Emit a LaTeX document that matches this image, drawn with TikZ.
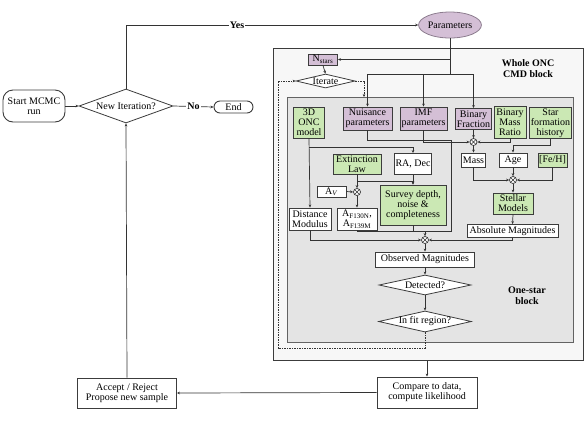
\documentclass[tikz,border=0pt]{standalone}
\usepackage{fontspec}
\setmainfont{Liberation Serif}
\usetikzlibrary{arrows.meta,shapes.geometric}
\definecolor{purp}{HTML}{D4BFD6}
\definecolor{grn}{HTML}{CBE8B4}
\definecolor{lc}{HTML}{333333}
\definecolor{bc}{HTML}{3C3C3C}
\definecolor{outerfill}{HTML}{F7F7F7}
\definecolor{innerfill}{HTML}{E4E4E4}
\definecolor{ellborder}{HTML}{8C7C8E}
\begin{document}
\begin{tikzpicture}[x=1pt,y=-1pt,
  font=\fontsize{10}{10}\selectfont,
  box/.style={draw=bc, line width=0.9pt, fill=white, align=center, inner sep=1pt},
  gbox/.style={box, fill=grn},
  pbox/.style={box, fill=purp},
  dia/.style={diamond, draw=bc, line width=0.8pt, fill=white, inner sep=0pt},
  conn/.style={draw=lc, line width=0.7pt},
  arr/.style={conn, -{Stealth[length=3pt,width=2.6pt]}},
  dsh/.style={draw=lc, line width=0.6pt, dash pattern=on 1.5pt off 1pt},
  ox/.style={circle, draw=lc, line width=0.7pt, fill=white, minimum size=7pt, inner sep=0pt,
    path picture={\draw[lc, line width=0.6pt] (path picture bounding box.north west) -- (path picture bounding box.south east)
      (path picture bounding box.north east) -- (path picture bounding box.south west);}},
  lbl/.style={font=\fontsize{10}{11}\selectfont\bfseries, align=center}
]
\useasboundingbox (0,0) rectangle (586,421);

% outer and inner blocks
\node[draw=bc, line width=0.9pt, fill=outerfill, minimum width=310pt, minimum height=312pt, anchor=north west, inner sep=0pt] (outer) at (273,48) {};
\node[draw=bc!80, line width=1pt, fill=innerfill, minimum width=286pt, minimum height=245pt, anchor=north west, inner sep=0pt] (inner) at (287,97) {};
\node[lbl] (wholelbl) at (528,69) {Whole ONC\\CMD block};
\node[lbl] (onelbl) at (527,296) {One-star\\block};

% left flow
\node[box, rounded corners=10pt, minimum width=62pt, minimum height=32pt] (start) at (34,106) {Start MCMC\\run};
\node[dia, minimum width=94pt, minimum height=34pt, aspect=2.8] (newit) at (126,106) {New Iteration?};
\node[box, rounded corners=6pt, minimum width=39pt, minimum height=12pt] (endn) at (233.5,107) {End};
\node[box, minimum width=99pt, minimum height=30pt] (accept) at (127,393) {Accept / Reject\\Propose new sample};
\node[box, minimum width=100pt, minimum height=31pt] (compare) at (427,392.5) {Compare to data,\\compute likelihood};
\node[ellipse, draw=ellborder, line width=0.8pt, fill=purp, minimum width=61pt, minimum height=26pt, inner sep=0pt] (params) at (450,25) {Parameters};

% top of whole block
\node[pbox, minimum width=29pt, minimum height=11pt, inner sep=0.5pt] (nstars) at (323,59.5) {N\textsubscript{stars}};
\node[dia, minimum width=59pt, minimum height=14pt, aspect=4.2] (iterate) at (325.5,81) {Iterate};

% first row
\node[gbox, minimum width=31pt, minimum height=31pt] (onc) at (309,122.5) {3D\\ONC\\model};
\node[pbox, minimum width=49pt, minimum height=23pt] (nuis) at (367.5,118.5) {Nuisance\\parameters};
\node[pbox, minimum width=47pt, minimum height=23pt] (imf) at (423.5,118.5) {IMF\\parameters};
\node[pbox, minimum width=34pt, minimum height=21pt] (binf) at (473.5,119) {Binary\\Fraction};
\node[gbox, minimum width=32pt, minimum height=32pt] (bmr) at (510,122) {Binary\\Mass\\Ratio};
\node[gbox, minimum width=42pt, minimum height=30pt] (sfh) at (550.5,123) {Star\\formation\\history};

\node[ox] (ox1) at (473.5,142) {};

% second row
\node[gbox, minimum width=48pt, minimum height=20pt] (extl) at (357,164) {Extinction\\Law};
\node[box, minimum width=36pt, minimum height=21pt] (radec) at (413,164) {RA, Dec};
\node[box, minimum width=24pt, minimum height=14pt] (mass) at (473.5,160) {Mass};
\node[box, minimum width=28pt, minimum height=14pt] (age) at (513,160) {Age};
\node[gbox, minimum width=29pt, minimum height=14pt] (feh) at (552.5,160) {[Fe/H]};

\node[ox] (ox2) at (513,180) {};
\node[gbox, minimum width=40pt, minimum height=21pt] (stellar) at (513,203.5) {Stellar\\Models};
\node[box, minimum width=91pt, minimum height=13pt] (absmag) at (512.5,231) {Absolute Magnitudes};

\node[box, minimum width=29pt, minimum height=11pt, inner sep=0.5pt] (av) at (331.5,191.5) {A\textsubscript{\textit{V}}};
\node[ox] (ox3) at (357,192) {};
\node[gbox, minimum width=66pt, minimum height=40pt] (survey) at (413,205) {Survey depth,\\noise \&\\completeness};
\node[box, minimum width=42pt, minimum height=22pt] (distmod) at (310,219) {Distance\\Modulus};
\node[box, minimum width=40pt, minimum height=22pt] (afilt) at (357,219) {A\textsubscript{F130N},\\A\textsubscript{F139M}};

\node[ox] (ox4) at (425,240) {};
\node[box, minimum width=99pt, minimum height=15pt] (obsmag) at (425,259.5) {Observed Magnitudes};
\node[dia, minimum width=92pt, minimum height=20pt, aspect=4.6] (detected) at (425,285) {Detected?};
\node[dia, minimum width=92pt, minimum height=21pt, aspect=4.4] (infit) at (425,321.5) {In fit region?};

% coordinates
\coordinate (cY) at (126,25);
\coordinate (pJ) at (450,74);
\coordinate (pN) at (450,59.5);
\coordinate (hL) at (367.5,74);
\coordinate (hR) at (473.5,74);
\coordinate (dl) at (278,348);
\coordinate (ix) at (364,97);
\coordinate (nuJ) at (451,140);
\coordinate (mJ) at (425,231);
\coordinate (oncJ) at (309,147);
\coordinate (extJ) at (357,181);

% main loop
\draw[arr] (start.east) -- (newit.west);
\draw[arr] (newit.east) -- node[fill=white, inner sep=1pt, font=\fontsize{10}{10}\selectfont\bfseries] {No} (endn.west);
\draw[arr] (newit.north) |- node[pos=0.69, fill=white, inner sep=1pt, font=\fontsize{10}{10}\selectfont\bfseries] {Yes} (params.west);
\draw[arr] (accept.north) -- (newit.south);
\draw[arr] (compare.west) -- (accept.east);
\draw[arr] (outer.south -| compare.north) -- (compare.north);

% parameters distribution
\draw[conn] (params.south) -- (pJ);
\draw[arr] (pN) -- (nstars.east);
\draw[conn] (hL) -- (hR);
\draw[arr] (hL) -- (nuis.north);
\draw[arr] (imf.north |- hL) -- (imf.north);
\draw[arr] (hR) -- (binf.north);
\draw[arr] (nstars.south) -- (iterate.north);

% dashed iteration loop
\draw[dsh, -{Stealth[length=3pt,width=2.6pt]}] (infit.south) |- (dl) |- (iterate.west);
\draw[dsh, -{Stealth[length=3pt,width=2.6pt]}] (iterate.east) -| (ix);

% first otimes
\draw[arr] (binf.south) -- (ox1.north);
\draw[arr] (imf.south) |- (ox1.west);
\draw[arr] (bmr.south) |- (ox1.east);
\draw[arr] (ox1.south) -- (mass.north);
\draw[arr] (sfh.south) -- ++(0,7) -| (age.north);

% second otimes
\draw[arr] (mass.south) |- (ox2.west);
\draw[arr] (feh.south) |- (ox2.east);
\draw[arr] (age.south) -- (ox2.north);
\draw[arr] (ox2.south) -- (stellar.north);
\draw[arr] (stellar.south) -- (absmag.north);

% left part
\draw[arr] (onc.south) -- (distmod.north);
\draw[arr] (oncJ) -| (radec.north);
\draw[arr] (extl.south) -- (ox3.north);
\draw[arr] (extJ) -| (survey.north);
\draw[arr] (radec.south) -- (survey.north);
\draw[arr] (av.east) -- (ox3.west);
\draw[arr] (ox3.south) -- (afilt.north);

% fourth otimes
\draw[conn] (nuis.south) |- (nuJ) |- (mJ);
\draw[conn] (survey.south) |- (mJ);
\draw[conn] (afilt.south) |- (mJ);
\draw[arr] (mJ) -- (ox4.north);
\draw[arr] (distmod.south) |- (ox4.west);
\draw[arr] (absmag.south) |- (ox4.east);
\draw[arr] (ox4.south) -- (obsmag.north);
\draw[arr] (obsmag.south) -- (detected.north);
\draw[arr] (detected.south) -- (infit.north);
\end{tikzpicture}
\end{document}
